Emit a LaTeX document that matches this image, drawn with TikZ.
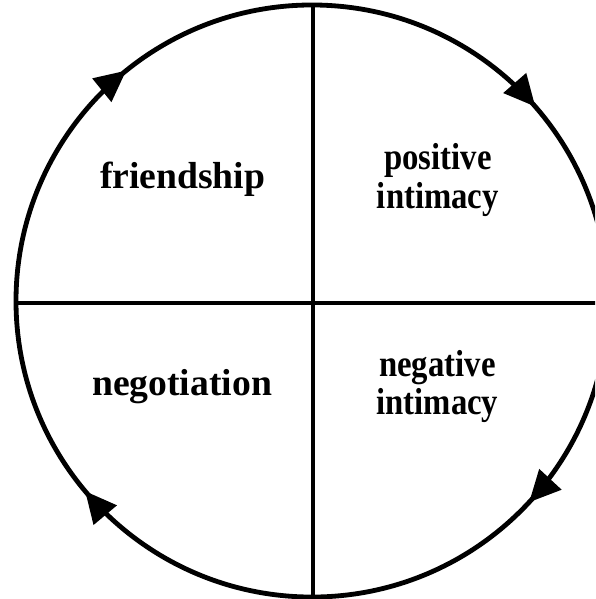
\documentclass[tikz,border=0pt]{standalone}
\usepackage{fontspec}
\setmainfont{Liberation Serif}
\newfontfamily\narrowserif[FakeStretch=0.87]{Liberation Serif}
\usetikzlibrary{arrows.meta,decorations.markings}
\tikzset{
  cycletip/.style={decoration={markings,
      mark=at position 0.114 with {\arrowreversed{Triangle[length=15pt,width=14pt]}},
      mark=at position 0.358 with {\arrowreversed{Triangle[length=15pt,width=14pt]}},
      mark=at position 0.611 with {\arrowreversed{Triangle[length=15pt,width=14pt]}},
      mark=at position 0.881 with {\arrowreversed{Triangle[length=15pt,width=14pt]}}},
    postaction={decorate}},
  quarter/.style={font=\fontsize{18}{18}\selectfont\bfseries, align=center},
  narrowquarter/.style={quarter, font=\fontsize{18}{18.5}\selectfont\narrowserif\bfseries}
}
\begin{document}
\begin{tikzpicture}[line join=round, line cap=round]
  \def\cx{5.244} \def\cy{5.008} \def\r{4.975} % circle
  \def\vx{5.261} \def\hy{4.975} % cross lines
  \useasboundingbox (0,0) rectangle (10,10.067);
  \clip (0,0) rectangle (10,10.067);
  \coordinate (O) at (\cx,\cy);
  \draw[line width=2.3pt, cycletip] (O) circle (\r);
  \coordinate (N) at (\vx,{\cy+\r});
  \coordinate (S) at (\vx,{\cy-\r});
  \coordinate (W) at ({\cx-\r},\hy);
  \coordinate (E) at ({\cx+\r},\hy);
  \draw[line width=1.8pt] (N) -- (S);
  \draw[line width=1.8pt] (W) -- (E);
  \node[quarter] (fr) at (3.07,7.06) {friendship};
  \node[narrowquarter] (pi) at (7.36,7.04) {positive\\intimacy};
  \node[quarter] (ne) at (3.06,3.57) {negotiation};
  \node[narrowquarter] (ni) at (7.35,3.57) {negative\\intimacy};
\end{tikzpicture}
\end{document}
